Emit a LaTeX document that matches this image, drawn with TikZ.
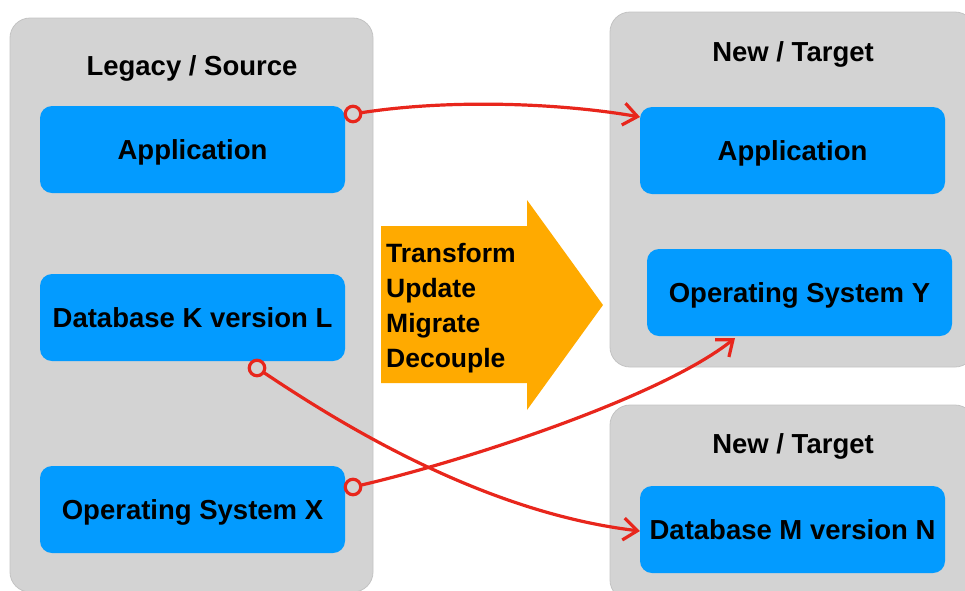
\documentclass[tikz,border=0pt]{standalone}
\usepackage{fontspec}
\setmainfont{Liberation Sans}
\usetikzlibrary{arrows.meta}
\definecolor{panelgray}{RGB}{211,211,211}
\definecolor{paneledge}{RGB}{195,195,195}
\definecolor{boxblue}{RGB}{3,155,255}
\definecolor{shiftorange}{RGB}{255,170,0}
\definecolor{linkred}{RGB}{232,38,28}
\begin{document}
\begin{tikzpicture}[x=1pt,y=-1pt,
  panel/.style={draw=paneledge, line width=0.8pt, fill=panelgray, rounded corners=20pt, inner sep=0pt},
  paneltitle/.style={font=\fontsize{27.5}{30}\selectfont\bfseries, text height=20pt, text depth=0pt, inner sep=0pt},
  comp/.style={fill=boxblue, rounded corners=12pt, minimum width=305pt, minimum height=87pt,
    inner sep=0pt, text height=20pt, text depth=0pt, font=\fontsize{27.5}{30}\selectfont\bfseries},
  dot/.style={circle, draw=linkred, line width=3.2pt, minimum size=15.5pt, inner sep=0pt},
  link/.style={draw=linkred, line width=3.2pt, line cap=round,
    -{Straight Barb[length=14pt,width=22pt,line width=3.2pt]}}
]
\useasboundingbox (0,0) rectangle (965,590);

% containers
\node[panel, minimum width=363pt, minimum height=574pt] (legacy) at (191.5,305) {};
\node[panel, minimum width=365pt, minimum height=355pt] (tgtA) at (792.5,189.5) {};
\node[panel, minimum width=365pt, minimum height=195pt] (tgtB) at (792.5,502.5) {};

\node[paneltitle] (legacyT) at (192,65) {Legacy / Source};
\node[paneltitle] (tgtAT) at (793,51) {New / Target};
\node[paneltitle] (tgtBT) at (793,443) {New / Target};

% components
\node[comp] (app1) at (192.5,149.5) {Application};
\node[comp] (db1)  at (192.5,317.5) {Database K version L};
\node[comp] (os1)  at (192.5,509.5) {Operating System X};
\node[comp] (app2) at (792.5,150.5) {Application};
\node[comp] (os2)  at (799.5,292.5) {Operating System Y};
\node[comp] (db2)  at (792.5,529.5) {Database M version N};

% transformation arrow
\path[fill=shiftorange] (381,226) -- (527,226) -- (527,200) -- (603,305)
  -- (527,410) -- (527,383) -- (381,383) -- cycle;
\node[anchor=west, align=left, inner sep=0pt,
  font=\fontsize{26.5}{35}\selectfont\bfseries] (steps) at (386,308)
  {Transform\\Update\\Migrate\\Decouple};

% mapping links
\node[dot] (s1) at (353,114) {};
\node[dot] (s2) at (257,368) {};
\node[dot] (s3) at (353,487) {};
\coordinate (e1) at (640,117);
\coordinate (e2) at (640,531);
\coordinate (e3) at (735,338);

\draw[link] (s1) .. controls (450,99) and (560,103) .. (e1);
\draw[link] (s2) .. controls (335,420) and (480,512) .. (e2);
\draw[link] (s3) .. controls (460,462) and (660,398) .. (e3);
\end{tikzpicture}
\end{document}
